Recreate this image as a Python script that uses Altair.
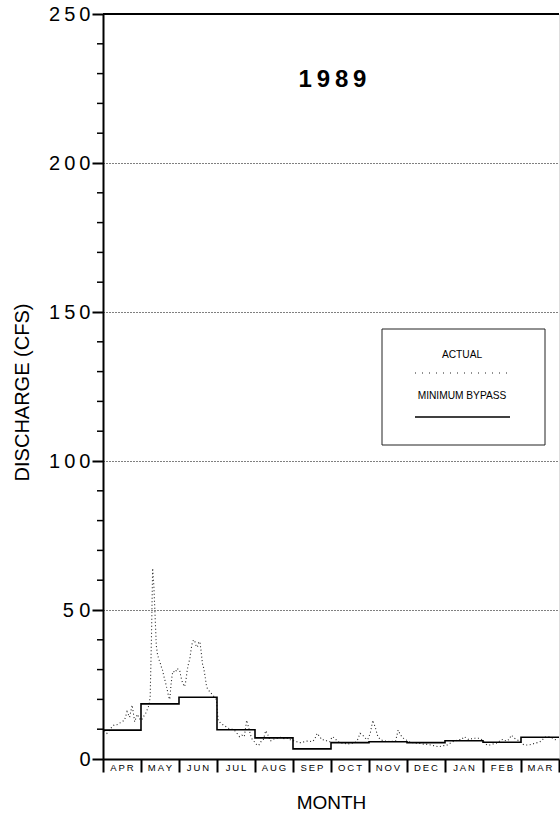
import altair as alt
import pandas as pd

# ---------------- data ----------------
MONTHS = ["APR", "MAY", "JUN", "JUL", "AUG", "SEP",
          "OCT", "NOV", "DEC", "JAN", "FEB", "MAR"]

# Actual discharge (cfs), readings spread evenly through each month
APR = [9.5, 8.6, 9.5, 10.8, 11.5, 11.5, 12, 12.5, 13, 15.9, 14, 18.1, 12.5, 15, 13.5]
MAY = [13, 14, 14.5, 15, 16, 17, 18, 21, 40, 64, 58, 48, 38, 35, 33.5, 32.5,
       31, 30, 28, 26.5, 24.8, 23, 21, 20, 25, 28.5, 29.5, 29, 29.5, 30.4, 30]
JUN = [29.9, 27.6, 26, 25, 24.3, 26.5, 29.9, 32, 33.5, 36.6, 39, 40, 39.5, 38, 37.5,
       39, 39.4, 36, 32, 30.5, 28, 25, 23.5, 23, 22.5, 22, 21.5, 21, 20.5, 20]
JUL = [13, 12, 11.5, 11, 10.5, 10, 10, 9.5, 8.5, 7.5, 8, 7.5, 13, 10, 7, 6]
AUG = [5, 4.5, 5.8, 6.4, 9.5, 8, 6, 6.5, 6.9, 7, 7.3, 7, 6.8, 7, 6.5, 6.4]
SEP = [6, 5.8, 5.5, 5.5, 5.8, 6, 6, 5.8, 6.5, 8.6, 7.5, 6.4, 6.5, 6, 5.8]
OCT = [7.5, 7, 6, 5.5, 5.3, 5.2, 5, 5.2, 5.3, 5.5, 6.5, 8.6, 8, 7, 6.5]
NOV = [8.6, 13, 10.5, 7.5, 6.5, 6.2, 6, 6, 5.8, 6, 6, 9.7, 8, 7, 6.5]
DEC = [6, 5.5, 5.5, 5.3, 5.2, 5.2, 5, 5, 4.8, 4.7, 4.5, 4.3, 4.1, 4.3, 4.5]
JAN = [4.5, 5, 5.5, 6, 6.2, 6.5, 6.5, 7.5, 7, 6.5, 6.8, 7, 6.9, 7, 6.5]
FEB = [5.5, 4.7, 4.7, 5, 5.2, 5.5, 6.4, 6.6, 6, 6.5, 8, 7, 6.5, 6]
MAR = [5, 4.7, 4.7, 4.8, 5, 5.3, 5.5, 5.8, 6.5, 7.3, 7.5, 7.3, 7, 6.5, 6.8]
ACTUAL = [APR, MAY, JUN, JUL, AUG, SEP, OCT, NOV, DEC, JAN, FEB, MAR]

# Minimum bypass flow requirement for each month (cfs)
MIN_BYPASS = [9.7, 18.5, 20.7, 9.8, 7.1, 3.4, 5.5, 5.8, 5.5, 6.1, 5.6, 7.3]

Y_TICKS = [0, 50, 100, 150, 200, 250]
Y_MINOR = [10, 20, 30, 40, 60, 70, 80, 90, 110, 120, 130, 140,
           160, 170, 180, 190, 210, 220, 230, 240]
TITLE = "1989"
LEGEND_LABELS = ["ACTUAL", "MINIMUM BYPASS"]

# ---------------- tables ----------------
rows = []
for i, vals in enumerate(ACTUAL):
    n = len(vals)
    for k, v in enumerate(vals):
        rows.append({"m": i + (k + 0.5) / n, "v": v})
actual_df = pd.DataFrame(rows)

step_df = pd.DataFrame({"m": list(range(13)),
                        "v": MIN_BYPASS + [MIN_BYPASS[-1]]})
minor_df = pd.DataFrame({"v": Y_MINOR})
top_df = pd.DataFrame({"v": [250]})

THIN = "\u2009"
month_df = pd.DataFrame({"m": [i + 0.5 for i in range(12)],
                         "label": [THIN.join(list(s)) for s in MONTHS]})

def spaced(v):
    if v == 50:
        return "5 0"
    return THIN.join(list(str(v)))

label_expr = "".join(f"datum.value == {v} ? '{spaced(v)}' : " for v in Y_TICKS) + "''"

FONT = "Liberation Sans"
W, H = 456, 745

xs = alt.Scale(domain=[0, 12], nice=False, zero=False)
ys = alt.Scale(domain=[0, 250], nice=False)

x_axis = alt.Axis(values=list(range(13)), labels=False, tickSize=13, tickWidth=2,
                  tickColor="black", domainColor="black", domainWidth=2, grid=False,
                  title="MONTH", titleFont=FONT, titleFontSize=19,
                  titleFontWeight="normal", titleColor="black",
                  titleX=W / 2, titleY=49, titleBaseline="alphabetic",
                  titleAlign="center")
y_axis = alt.Axis(values=Y_TICKS, labelExpr=label_expr, labelFont=FONT,
                  labelFontSize=20, labelColor="black", labelPadding=2,
                  tickSize=11, tickWidth=2, tickColor="black",
                  domainColor="black", domainWidth=2,
                  grid=True, gridDash=[1, 2], gridColor="black", gridWidth=1,
                  title="DISCHARGE (CFS)", titleFont=FONT, titleFontSize=20,
                  titleFontWeight="normal", titleColor="black",
                  titleX=-81, titleY=378, titleAngle=270,
                  titleBaseline="middle", titleAlign="center")

X = alt.X("m:Q", scale=xs, axis=x_axis)
Y = alt.Y("v:Q", scale=ys, axis=y_axis)

actual = alt.Chart(actual_df).mark_line(
    strokeDash=[1, 2.5], strokeWidth=1.1, color="#222222"
).encode(x=X, y=Y)

bypass = alt.Chart(step_df).mark_line(
    interpolate="step-after", strokeWidth=1.6, color="black"
).encode(x=X, y=Y)

minor = alt.Chart(minor_df).mark_rule(color="black", strokeWidth=1.5).encode(
    y=Y, x=alt.value(-6), x2=alt.value(0))

top = alt.Chart(top_df).mark_rule(color="black", strokeWidth=2).encode(y=Y)

months = alt.Chart(month_df).mark_text(
    font=FONT, fontSize=9.5, color="black", baseline="alphabetic", align="center"
).encode(x=X, y=alt.value(H + 12), text="label:N")

title = alt.Chart(pd.DataFrame({"t": [THIN.join(list(TITLE))]})).mark_text(
    font=FONT, fontSize=24, fontWeight="bold", color="black",
    baseline="alphabetic", align="center"
).encode(x=alt.value(229.5), y=alt.value(73), text="t:N")

leg_df = pd.DataFrame({"a": [0]})
leg_box = alt.Chart(leg_df).mark_rect(
    fillOpacity=0, stroke="#222222", strokeWidth=1
).encode(x=alt.value(279), x2=alt.value(442), y=alt.value(315), y2=alt.value(431))

leg_text = alt.Chart(pd.DataFrame({"label": LEGEND_LABELS,
                                   "py": [344, 385]})).mark_text(
    font=FONT, fontSize=10.2, color="black", baseline="alphabetic", align="center"
).encode(x=alt.value(359), y=alt.Y("py:Q", scale=None), text="label:N")

leg_dot = alt.Chart(leg_df).mark_rule(
    strokeDash=[1, 6], strokeWidth=1.1, color="#222222"
).encode(x=alt.value(312), x2=alt.value(405), y=alt.value(359))

leg_solid = alt.Chart(leg_df).mark_rule(strokeWidth=1.6, color="black").encode(
    x=alt.value(312), x2=alt.value(407), y=alt.value(403))

chart = alt.layer(
    actual, bypass, minor, top, months, title, leg_box, leg_text, leg_dot, leg_solid
).properties(
    width=W, height=H,
    autosize=alt.AutoSizeParams(type="none"),
    padding={"left": 103, "top": 14, "right": 1, "bottom": 56},
).configure_view(stroke="#9a9a9a", strokeWidth=1
).configure(background="white")

chart.save("out.html", embed_options={"renderer": "svg", "actions": False})
